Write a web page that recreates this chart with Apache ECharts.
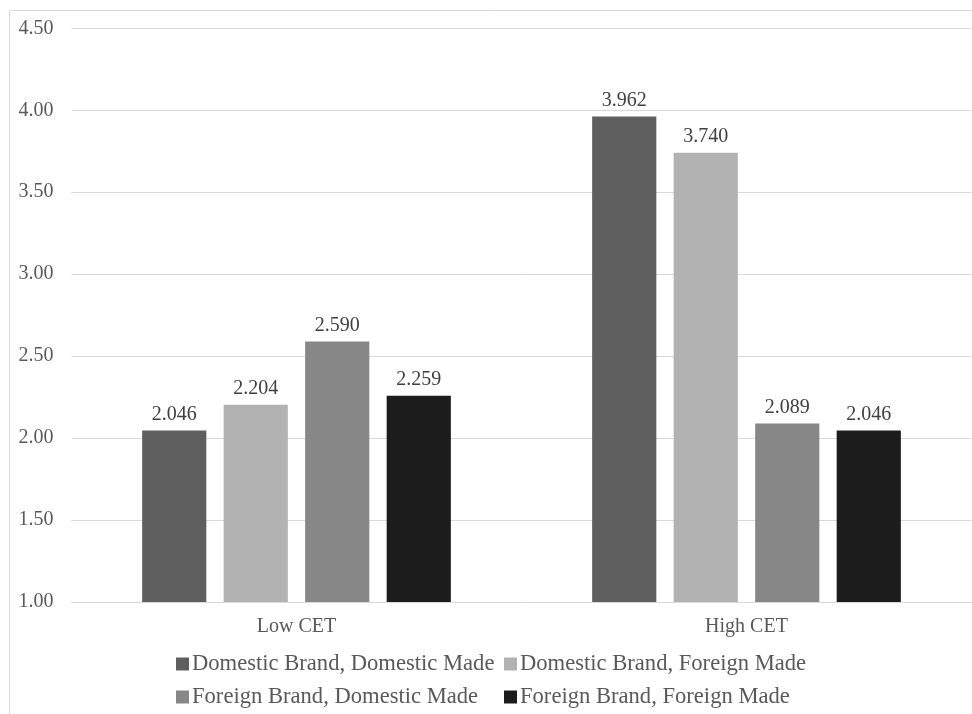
<!DOCTYPE html>
<html>
<head>
<meta charset="utf-8">
<script src="https://cdn.jsdelivr.net/npm/echarts@6/dist/echarts.min.js"></script>
<style>
html,body{margin:0;padding:0;background:#fff;}
#chart{width:972px;height:714px;}
</style>
</head>
<body>
<div id="chart"></div>
<script>
var categories = ['Low CET', 'High CET'];
var seriesNames = ['Domestic Brand, Domestic Made', 'Domestic Brand, Foreign Made', 'Foreign Brand, Domestic Made', 'Foreign Brand, Foreign Made'];
var domesticDomestic = [2.046, 3.962];
var domesticForeign = [2.204, 3.740];
var foreignDomestic = [2.590, 2.089];
var foreignForeign = [2.259, 2.046];
var seriesColors = ['#5f5f5f', '#b2b2b2', '#878787', '#1c1c1c'];
var yMin = 1.0, yMax = 4.5, yInterval = 0.5;

var font = '"Liberation Serif", "Times New Roman", serif';
var values = [domesticDomestic, domesticForeign, foreignDomestic, foreignForeign];
var chart = echarts.init(document.getElementById('chart'), null, {renderer: 'canvas'});
var series = values.map(function (v, i) {
  return {
    name: seriesNames[i],
    type: 'bar',
    data: v,
    barGap: '27%',
    barCategoryGap: '31.4%',
    itemStyle: {color: seriesColors[i]},
    label: {
      show: true,
      position: 'top',
      distance: 6,
      formatter: function (p) { return p.value.toFixed(3); },
      color: '#404040',
      fontFamily: font,
      fontSize: 20
    }
  };
});
chart.setOption({
  animation: false,
  backgroundColor: '#fff',
  graphic: [{
    type: 'rect',
    shape: {x: 9.5, y: 10.5, width: 1200, height: 1200},
    style: {fill: 'none', stroke: '#d9d9d9', lineWidth: 1},
    silent: true
  }],
  grid: {left: 71.5, right: 0.5, top: 28.3, bottom: 112, containLabel: false},
  xAxis: {
    type: 'category',
    data: categories,
    axisLine: {show: true, lineStyle: {color: '#d9d9d9', width: 1}},
    axisTick: {show: false},
    axisLabel: {color: '#595959', fontFamily: font, fontSize: 20, margin: 15}
  },
  yAxis: {
    type: 'value',
    min: yMin,
    max: yMax,
    interval: yInterval,
    axisLine: {show: false},
    axisTick: {show: false},
    splitLine: {lineStyle: {color: '#d9d9d9', width: 1}},
    axisLabel: {
      color: '#595959', fontFamily: font, fontSize: 20, margin: 18,
      formatter: function (v) { return v.toFixed(2); }
    }
  },
  legend: {
    data: seriesNames,
    left: 176,
    top: 651,
    width: 660,
    orient: 'horizontal',
    itemWidth: 13,
    itemHeight: 13,
    itemGap: 7,
    icon: 'rect',
    padding: 0,
    textStyle: {color: '#595959', fontFamily: font, fontSize: 22.6, width: 305, lineHeight: 26, padding: [0, 0, 0, -2]}
  },
  series: series
});
</script>
</body>
</html>
